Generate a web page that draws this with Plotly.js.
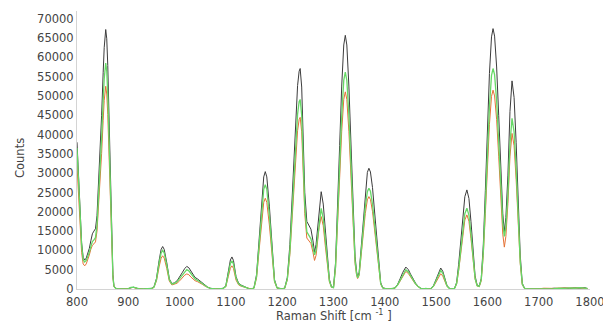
<!DOCTYPE html>
<html>
<head>
<meta charset="utf-8">
<script src="https://cdn.plot.ly/plotly-3.0.1.min.js"></script>
<style>html,body{margin:0;padding:0;background:#fff;}#chart{width:603px;height:323px;}</style>
</head>
<body>
<div id="chart"></div>
<script>
// Raman shift (cm^-1)
const shift = [
  800,803,806,809,812,815,818,821,824,827,830,833,836,839,842,845,848,851,853,856,858,860,862,864,866,868,870,872,875,880,
  890,900,905,910,915,920,930,940,945,950,955,960,964,967,970,975,980,985,990,995,1000,1005,1010,1014,1018,1022,1026,1030,1035,1040,1045,1050,1055,1060,1065,1070,
  1075,1080,1085,1090,1095,1099,1102,1105,1110,1115,1120,1125,1130,1135,1140,
  1145,1150,1155,1160,1164,1167,1170,1175,1180,1185,1190,1195,1200,
  1205,1210,1215,1220,1225,1230,1233,1235,1238,1241,1244,1248,1252,1256,1260,1263,1266,1269,1272,1276,1280,1284,1288,1292,1296,1300,
  1304,1308,1312,1316,1320,1323,1326,1330,1334,1338,1342,1345,1347,1350,1354,1358,1362,1366,1369,1372,1376,1380,1384,1388,1392,1396,1400,1405,
  1410,1415,1420,1425,1430,1435,1441,1446,1450,1455,1460,1465,1470,1475,1480,1485,1490,1495,1500,1505,1509,1513,1517,1521,1525,1530,
  1536,1540,1544,1548,1552,1556,1560,1564,1568,1572,1576,1580,1584,
  1588,1592,1596,1600,1604,1608,1611,1614,1618,1622,1626,1630,1633,1636,1640,1644,1648,1652,1656,1660,1664,1668,1672,1676,1680,
  1690,1700,1710,1720,1730,1740,1750,1760,1770,1780,1790,1795
];
const countsBlack = [
  38000,28000,19000,12000,8200,7500,8000,9000,10500,12500,14300,15000,15600,19000,27000,36000,45000,56000,62500,67200,64800,57900,47400,36000,22600,10900,3700,800,200,0,
  0,50,300,450,250,50,0,0,150,500,2750,7350,10260,11000,10260,6800,2600,1400,1600,2100,3000,4200,5300,5850,5500,4600,3600,3000,2600,2100,1500,900,450,200,50,0,
  0,50,200,790,4590,7510,8300,7400,3210,1500,1000,700,350,100,0,
  300,3700,13070,23400,29030,30400,29030,21460,10880,2400,300,80,0,
  300,3000,11500,25350,40900,52700,56400,57100,52300,39400,25000,17500,16500,15500,12500,9500,11500,16000,21000,25200,22000,15000,7500,2500,600,400,
  6830,20300,37200,52560,63200,65700,63200,52560,37200,20300,8500,4500,3100,4300,10800,18600,25600,30200,31270,30300,26300,20000,12900,6300,1650,300,100,0,
  0,50,300,1200,2700,4300,5680,5000,3900,2600,1500,700,200,0,100,0,100,900,2600,4600,5430,4600,2700,1000,250,0,
  200,1700,6400,12830,19250,23900,25660,23450,17450,9930,3410,1000,700,
  2700,11400,25500,41800,55840,65300,67440,65500,57500,45000,31000,19500,14800,18500,29500,46000,53900,49600,38000,23200,8800,1500,300,0,0,
  100,0,150,50,200,100,250,150,300,200,350,100
];
const countsGreen = [
  36500,27000,18000,11300,7600,7000,7400,8300,9500,11000,12300,12700,13300,16500,23500,31300,39200,48700,54400,58500,56400,50400,41200,31300,19700,9500,3200,700,200,0,
  0,80,400,500,300,80,0,0,130,450,2500,6700,9330,10000,9330,6200,2400,1300,1450,1850,2650,3650,4550,5000,4700,3950,3100,2600,2250,1800,1300,800,400,180,40,0,
  0,40,180,700,4040,6600,7300,6500,2820,1320,880,620,300,90,0,
  270,3290,11600,20800,25800,27000,25800,19060,9660,2130,270,70,0,
  250,2600,9900,21800,35200,45300,48500,49100,45000,33900,21500,14800,13800,13000,10700,8860,10000,13500,17500,20900,18300,12500,6200,2100,500,350,
  5840,17360,31800,44940,54040,56200,54040,44940,31800,17360,7300,4000,2900,3800,9000,15530,21380,25220,26100,25300,21960,16700,10770,5260,1380,250,80,0,
  0,50,270,1060,2400,3800,5000,4400,3430,2290,1320,620,180,0,150,0,90,800,2300,4070,4800,4070,2390,880,220,0,
  160,1390,5220,10470,15710,19500,20930,19130,14240,8100,2780,850,650,
  2400,9660,21600,35400,47300,55300,57100,55500,48700,38100,26300,17200,13600,16000,24500,37700,44200,40700,31200,19000,7200,1250,250,0,0,
  50,100,100,150,100,200,150,300,200,350,300,150
];
const countsOrange = [
  32000,23500,15500,9500,6500,6000,6500,7500,8800,10300,11300,11700,12200,15000,21000,28100,35100,43700,48800,52500,50500,45200,37000,28100,17600,8500,2900,600,150,0,
  0,100,350,400,200,50,0,0,120,400,2150,5730,8000,8600,8000,5300,2050,1050,1200,1500,2100,2900,3600,3900,3700,3100,2500,2150,1900,1600,1150,700,350,150,30,0,
  0,40,150,570,3300,5400,6000,5330,2310,1080,720,500,250,70,0,
  230,2860,10100,18090,22440,23500,22440,16590,8410,1860,230,60,0,
  230,2350,8950,19720,31800,41000,43880,44450,40700,30650,19500,13200,12400,11800,9500,7400,8700,12200,16000,18760,16400,11200,5600,1860,450,300,
  5310,15770,28900,40840,49100,51060,49100,40840,28900,15770,6600,3600,2700,3500,8260,14230,19580,23100,23930,23180,20120,15300,9870,4820,1260,230,80,0,
  0,40,240,960,2160,3440,4550,4000,3120,2080,1200,560,160,0,80,0,70,650,1900,3340,3950,3340,1960,730,180,0,
  150,1270,4790,9600,14400,17880,19200,17540,13050,7430,2550,780,600,
  2100,8710,19480,31940,42660,49900,51500,50000,43900,34400,23400,14200,10850,13600,22100,34400,40300,37100,28400,17400,6600,1100,220,0,0,
  80,50,200,100,150,250,200,200,250,300,250,100
];
const xTitle = 'Raman Shift [cm <sup>-1</sup> ]';
const yTitle = 'Counts';

const font = 'DejaVu Sans, Verdana, sans-serif';
const traces = [
  {x: shift, y: countsBlack, mode: 'lines', line: {color: '#3c3c3c', width: 1}, name: 'A'},
  {x: shift, y: countsOrange, mode: 'lines', line: {color: '#e57235', width: 1}, name: 'B'},
  {x: shift, y: countsGreen, mode: 'lines', line: {color: '#66d966', width: 1.3}, name: 'C'}
];
const layout = {
  width: 603, height: 323,
  margin: {l: 77, r: 13, t: 11, b: 34, pad: 0},
  paper_bgcolor: '#fff', plot_bgcolor: '#fff',
  showlegend: false,
  font: {family: font, size: 11.5, color: '#444'},
  xaxis: {
    range: [800, 1800], dtick: 100, tick0: 800,
    showgrid: false, zeroline: false, showline: true, linecolor: '#d4d4d4', linewidth: 1,
    ticks: 'outside', ticklen: 2, tickcolor: 'rgba(0,0,0,0)', ticklabeloverflow: 'allow',
    tickfont: {family: font, size: 11.5, color: '#444'}
  },
  yaxis: {
    range: [0, 72000], dtick: 5000, tick0: 0, tickformat: 'd',
    showgrid: false, zeroline: false, showline: true, linecolor: '#d4d4d4', linewidth: 1,
    ticks: '', tickfont: {family: font, size: 11.5, color: '#444'}
  },
  annotations: [
    {text: xTitle, xref: 'paper', yref: 'paper', x: 0.5, y: 0, xanchor: 'center', yanchor: 'middle',
     yshift: -26, showarrow: false, font: {family: font, size: 11.5, color: '#444'}},
    {text: yTitle, xref: 'paper', yref: 'paper', x: 0, y: 0.5, xanchor: 'center', yanchor: 'middle',
     xshift: -57, yshift: -8, textangle: -90, showarrow: false, font: {family: font, size: 11.5, color: '#444'}}
  ]
};
Plotly.newPlot('chart', traces, layout, {staticPlot: true, displayModeBar: false});
</script>
</body>
</html>
